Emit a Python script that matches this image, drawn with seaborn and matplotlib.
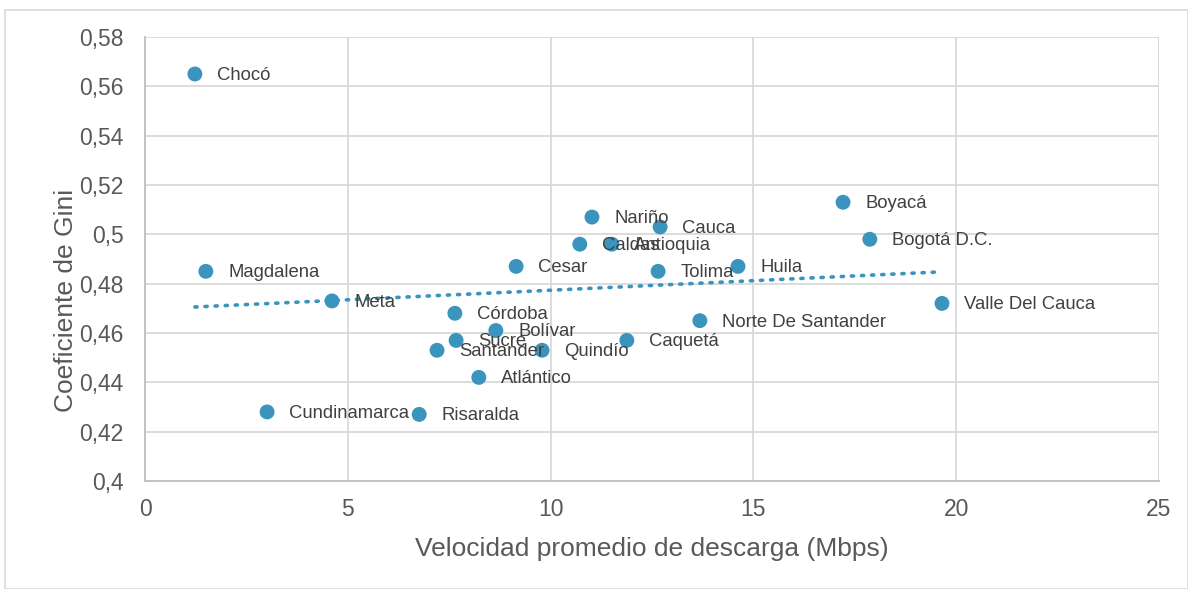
import matplotlib
matplotlib.use("Agg")
import matplotlib.pyplot as plt
import seaborn as sns
import pandas as pd
import numpy as np
from matplotlib.ticker import FuncFormatter
from matplotlib.patches import Rectangle

departamentos = ["Chocó", "Magdalena", "Meta", "Cundinamarca", "Risaralda", "Santander",
                 "Sucre", "Córdoba", "Bolívar", "Atlántico", "Quindío", "Cesar", "Caldas",
                 "Antioquia", "Nariño", "Cauca", "Tolima", "Caquetá", "Huila",
                 "Norte De Santander", "Boyacá", "Bogotá D.C.", "Valle Del Cauca"]
velocidad = [1.23, 1.50, 4.61, 3.01, 6.76, 7.20, 7.67, 7.64, 8.65, 8.23, 9.79, 9.15, 10.72,
             11.51, 11.02, 12.70, 12.65, 11.88, 14.62, 13.68, 17.21, 17.87, 19.65]
gini = [0.565, 0.485, 0.473, 0.428, 0.427, 0.453, 0.457, 0.468, 0.461, 0.442, 0.453, 0.487,
        0.496, 0.496, 0.507, 0.503, 0.485, 0.457, 0.487, 0.465, 0.513, 0.498, 0.472]

df = pd.DataFrame({"dep": departamentos, "x": velocidad, "y": gini})

sns.set_theme(style="white")
plt.rcParams["font.family"] = ["Liberation Sans", "DejaVu Sans"]

color = "#3A94BD"
text_color = "#404040"
axis_text = "#595959"

fig = plt.figure(figsize=(11.88, 5.89), dpi=100)
ax = fig.add_axes([145/1188, 1-481/589, (1159-145)/1188, (481-37)/589])

sns.regplot(data=df, x="x", y="y", ax=ax, ci=None, scatter=False,
            line_kws=dict(color=color, linestyle=(0, (0.6, 2.2)), linewidth=2.6,
                          dash_capstyle="round"))
sns.scatterplot(data=df, x="x", y="y", ax=ax, color=color, s=115, edgecolor="none", zorder=3)

for d, xv, yv in zip(departamentos, velocidad, gini):
    ax.annotate(d, (xv, yv), xytext=(16, -1), textcoords="offset points",
                va="center", ha="left", fontsize=13.3, color=text_color, zorder=4)

ax.set_xlim(0, 25)
ax.set_ylim(0.4, 0.58)
ax.set_xticks(np.arange(0, 26, 5))
ax.set_yticks(np.round(np.arange(0.40, 0.5801, 0.02), 2))
ax.yaxis.set_major_formatter(FuncFormatter(lambda v, p: ("%g" % round(v, 2)).replace(".", ",")))
ax.xaxis.set_major_formatter(FuncFormatter(lambda v, p: "%g" % v))
ax.grid(True, color="#D9D9D9", linewidth=1.3)
ax.set_axisbelow(True)
for s in ["top", "right"]:
    ax.spines[s].set_visible(False)
for s in ["left", "bottom"]:
    ax.spines[s].set_color("#BFBFBF")
    ax.spines[s].set_linewidth(1.3)
ax.tick_params(axis="y", labelsize=16.5, colors=axis_text, length=0, pad=15.5)
ax.tick_params(axis="x", labelsize=16.5, colors=axis_text, length=0, pad=12.5)
ax.set_xlabel("Velocidad promedio de descarga (Mbps)", fontsize=19, color=axis_text)
ax.set_ylabel("Coeficiente de Gini", fontsize=19, color=axis_text)
ax.xaxis.set_label_coords(0.5, -(549 - 481) / 444, transform=ax.transAxes)
ax.yaxis.set_label_coords((66 - 145) / 1014, 1 - (300 - 37) / 444, transform=ax.transAxes)
ax.xaxis.label.set_va("center")
ax.yaxis.label.set_va("center")

fig.patches.append(Rectangle((5/1188, 0), 1 - 5/1188, 1 - 10/589, transform=fig.transFigure,
                             fill=False, edgecolor="#D9D9D9", linewidth=1.2))

fig.savefig("out.png", dpi=100)
